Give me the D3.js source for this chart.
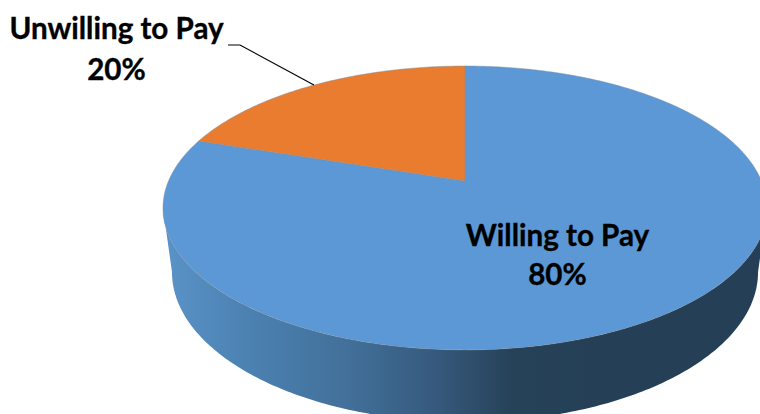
<!DOCTYPE html>
<html>
<head>
<meta charset="utf-8">
<script src="https://cdn.jsdelivr.net/npm/d3@7"></script>
<style>
html,body{margin:0;padding:0;background:#fff;overflow:hidden}
text{font-family:Lato,"Open Sans",sans-serif;font-weight:700;fill:#000;stroke:#000;stroke-width:0.35px}
</style>
</head>
<body>
<svg id="chart" width="760" height="414"></svg>
<script>
const categories = ["Willing to Pay", "Unwilling to Pay"];
const shares = [80, 20];
const sliceColors = ["#5B98D5", "#EA7C30"];
const wallStops = [
  [0, "#5A93C8"], [0.2, "#4B81B1"], [0.42, "#42709A"],
  [0.62, "#365A7E"], [0.8, "#264259"], [1, "#243F56"]
];

const svg = d3.select("#chart");

// Perspective projection of a tilted disc: angle 0 points to the back, angles run clockwise.
const tilt = 0.19;
function disc(cx, cy, radius, depth) {
  return angle => {
    const u = Math.sin(angle), v = Math.cos(angle), w = 1 + tilt * v;
    return [cx + radius * u / w, cy - depth * v / w];
  };
}
const topRim = disc(465, 181, 296.5, 136.8);
const lowerRim = disc(465, 243.5, 287.7, 144.6);
const apex = [465, 181];

const arcs = d3.pie().value(d => d).sort(null)(shares);
const step = Math.PI / 240;
const sweep = (a, b) => d3.range(a, b, step).concat([b]);
const line = d3.line().curve(d3.curveLinear);

// Outer wall: front of the top rim between its widest points, then back along the lower rim.
const widest = Math.asin(tilt);
const frontAngles = sweep(Math.PI / 2 + widest, 3 * Math.PI / 2 - widest);
const wall = frontAngles.map(topRim).concat(frontAngles.slice().reverse().map(lowerRim));

const defs = svg.append("defs");
const grad = defs.append("linearGradient")
  .attr("id", "wallShade").attr("gradientUnits", "userSpaceOnUse")
  .attr("x1", 163).attr("x2", 600).attr("y1", 0).attr("y2", 0);
grad.selectAll("stop").data(wallStops).join("stop")
  .attr("offset", d => d[0]).attr("stop-color", d => d[1]);

svg.append("path").attr("d", line(wall) + "Z").attr("fill", "url(#wallShade)");

// Top face slices; the first slice starts at the back and runs clockwise.
svg.selectAll("path.slice").data(arcs).join("path")
  .attr("class", "slice")
  .attr("d", d => line([apex].concat(sweep(d.startAngle, d.endAngle).map(topRim))) + "Z")
  .attr("fill", (d, i) => sliceColors[i])
  .attr("stroke", "#7f8fa0").attr("stroke-width", 0.6).attr("stroke-opacity", 0.8);

// Leader from the smaller slice's rim midpoint to its label.
const mid = (arcs[1].startAngle + arcs[1].endAngle) / 2;
const rimPoint = topRim(mid);
svg.append("path")
  .attr("d", line([[228, 45], [240, 45], rimPoint]))
  .attr("fill", "none").attr("stroke", "#000").attr("stroke-width", 1.2);

const labels = [
  { name: categories[1], value: shares[1], x: 116.5, y1: 39, y2: 80 },
  { name: categories[0], value: shares[0], x: 557.5, y1: 246, y2: 285 }
];
labels.forEach(l => {
  svg.append("text").attr("x", l.x).attr("y", l.y1).attr("text-anchor", "middle")
    .attr("font-size", 29.6).text(l.name);
  svg.append("text").attr("x", l.x).attr("y", l.y2).attr("text-anchor", "middle")
    .attr("font-size", 29.6).text(l.value + "%");
});
</script>
</body>
</html>
